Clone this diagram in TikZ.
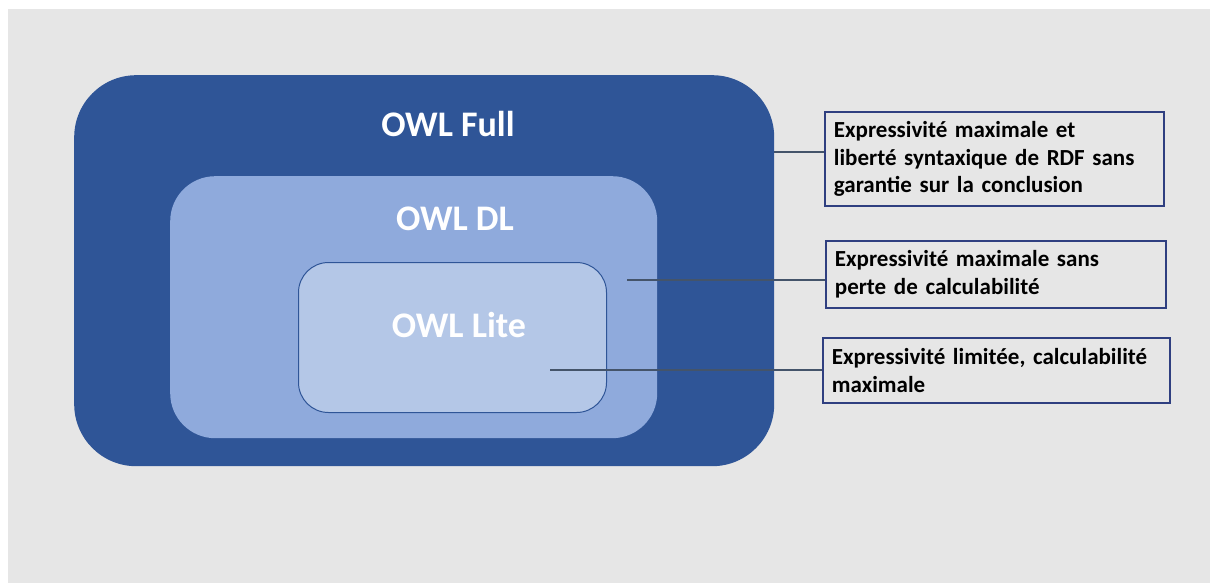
\documentclass[tikz,border=0pt]{standalone}
\usepackage{fontspec}
\setmainfont{Carlito}
\usepackage{xcolor}
\definecolor{fullblue}{HTML}{2F5597}
\definecolor{dlblue}{HTML}{8FAADC}
\definecolor{liteblue}{HTML}{B4C7E7}
\definecolor{bggrey}{HTML}{E6E6E6}
\definecolor{linkgrey}{HTML}{44546A}
\definecolor{boxblue}{HTML}{2F3F80}

\begin{document}
\begin{tikzpicture}[x=1pt,y=-1pt,
		owlset/.style={rounded corners=#1, anchor=north west, inner sep=0pt},
		owltitle/.style={anchor=base, text=white, font=\bfseries\fontsize{36}{43}\selectfont},
		desc/.style={draw=boxblue, line width=1.8pt, fill=bggrey, anchor=north west, align=left, inner xsep=9pt, inner ysep=0pt, font=\bfseries\fontsize{23}{27.5}\selectfont},
		link/.style={draw=linkgrey, line width=2.3pt}]
		\useasboundingbox(0,0)rectangle(1210,583);
		\fill[white](0,0)rectangle(1210,583);
		\fill[bggrey](8,9)rectangle(1210,583);
		\node[owlset=62pt, fill=fullblue, minimum width=700pt, minimum height=391pt](full) at (74,75){};
		\node[owlset=45pt, fill=dlblue, minimum width=487pt, minimum height=262pt](dl) at (170,176){};
		\node[owlset=30pt, fill=liteblue, draw=fullblue, line width=1pt, minimum width=308pt, minimum height=150pt](lite) at (298,262){};
		\node[owltitle](fulltitle) at (448,137){OWL Full};
		\node[owltitle](dltitle) at (455,230){OWL DL};
		\node[owltitle](litetitle) at (459,337){OWL Lite};
		\node[desc, text width=321pt, minimum height=94pt](fulltext) at (824,111){Expressivité maximale et\\liberté syntaxique de RDF sans\\garantie sur la conclusion};
		\node[desc, text width=322pt, minimum height=67pt](dltext) at (825,240){Expressivité maximale sans\\perte de calculabilité};
		\node[desc, text width=329pt, minimum height=65pt](litetext) at (822,337){Expressivité limitée, calculabilité\\maximale};
		\coordinate(fullpt) at (774,152);
		\coordinate(dlpt) at (627,280);
		\coordinate(litept) at (550,370);
		\draw[link](fullpt)--(fullpt -| fulltext.west);
		\draw[link](dlpt)--(dlpt -| dltext.west);
		\draw[link](litept)--(litept -| litetext.west);
		\end{tikzpicture}
\end{document}
